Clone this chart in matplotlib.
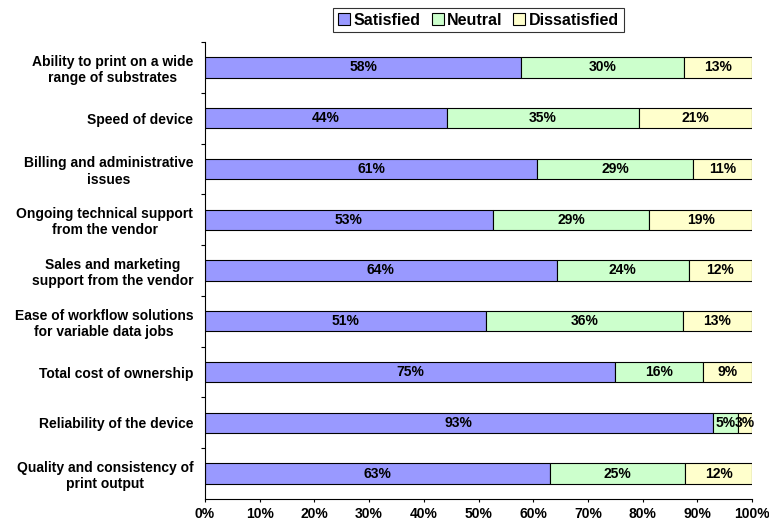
import numpy as np
import matplotlib.pyplot as plt
from matplotlib.ticker import FixedLocator, PercentFormatter

plt.rcParams['font.family'] = ['Liberation Sans', 'DejaVu Sans']
plt.rcParams['font.weight'] = 'bold'

categories = [
    'Ability to print on a wide\nrange of substrates',
    'Speed of device',
    'Billing and administrative\nissues',
    'Ongoing technical support\nfrom the vendor',
    'Sales and marketing\nsupport from the vendor',
    'Ease of workflow solutions\nfor variable data jobs',
    'Total cost of ownership',
    'Reliability of the device',
    'Quality and consistency of\nprint output',
]
satisfied = [57.8, 44.2, 60.7, 52.6, 64.3, 51.4, 75.0, 92.8, 63.1]
neutral = [29.7, 35.1, 28.6, 28.6, 24.1, 36.0, 16.1, 4.6, 24.7]
dissatisfied = [12.5, 20.7, 10.7, 18.8, 11.6, 12.6, 8.9, 2.6, 12.2]
series = ['Satisfied', 'Neutral', 'Dissatisfied']
colors = ['#9999FF', '#CCFFCC', '#FFFFCC']

W, H = 769, 523
fig = plt.figure(figsize=(W / 100, H / 100), dpi=100)
# axes box in pixels: x 205..752, y 42..499
ax = fig.add_axes([205 / W, (H - 499) / H, 547 / W, 457 / H])

y = np.arange(len(categories))
left = np.zeros(len(categories))
for name, vals, col in zip(series, [satisfied, neutral, dissatisfied], colors):
    vals = np.array(vals)
    bars = ax.barh(y, vals, left=left, height=0.4, color=col,
                   edgecolor='black', linewidth=0.8, label=name)
    for b, v in zip(bars, vals):
        ax.text(b.get_x() + b.get_width() / 2, b.get_y() + b.get_height() / 2,
                '%d%%' % int(v + 0.5), ha='center', va='center',
                fontsize=10, fontweight='bold')
    left += vals

ax.set_xlim(0, 100)
ax.set_ylim(len(categories) - 0.5, -0.5)
ax.set_xticks(np.arange(0, 101, 10))
ax.xaxis.set_major_formatter(PercentFormatter(decimals=0))
ax.set_yticks(y)
ax.set_yticklabels(categories, multialignment='center')
ax.yaxis.set_minor_locator(FixedLocator(np.arange(-0.5, len(categories) - 1, 1)))
ax.tick_params(axis='y', which='major', length=0, pad=8.5, labelsize=10)
ax.tick_params(axis='y', which='minor', length=3, width=0.8, direction='out')
ax.tick_params(axis='x', length=2.5, width=0.8, direction='out', labelsize=10, pad=3.5)

for s in ['top', 'right']:
    ax.spines[s].set_visible(False)
for s in ['left', 'bottom']:
    ax.spines[s].set_linewidth(0.8)

leg = ax.legend(loc='lower center', bbox_to_anchor=(0.5, 1.021), ncol=3,
                frameon=True, fancybox=False, edgecolor='black',
                fontsize=11.5, handlelength=0.75, handleheight=0.75,
                handletextpad=0.2, columnspacing=0.7, borderpad=0.3,
                borderaxespad=0)
leg.get_frame().set_linewidth(0.8)

fig.savefig('out.png', dpi=100)
